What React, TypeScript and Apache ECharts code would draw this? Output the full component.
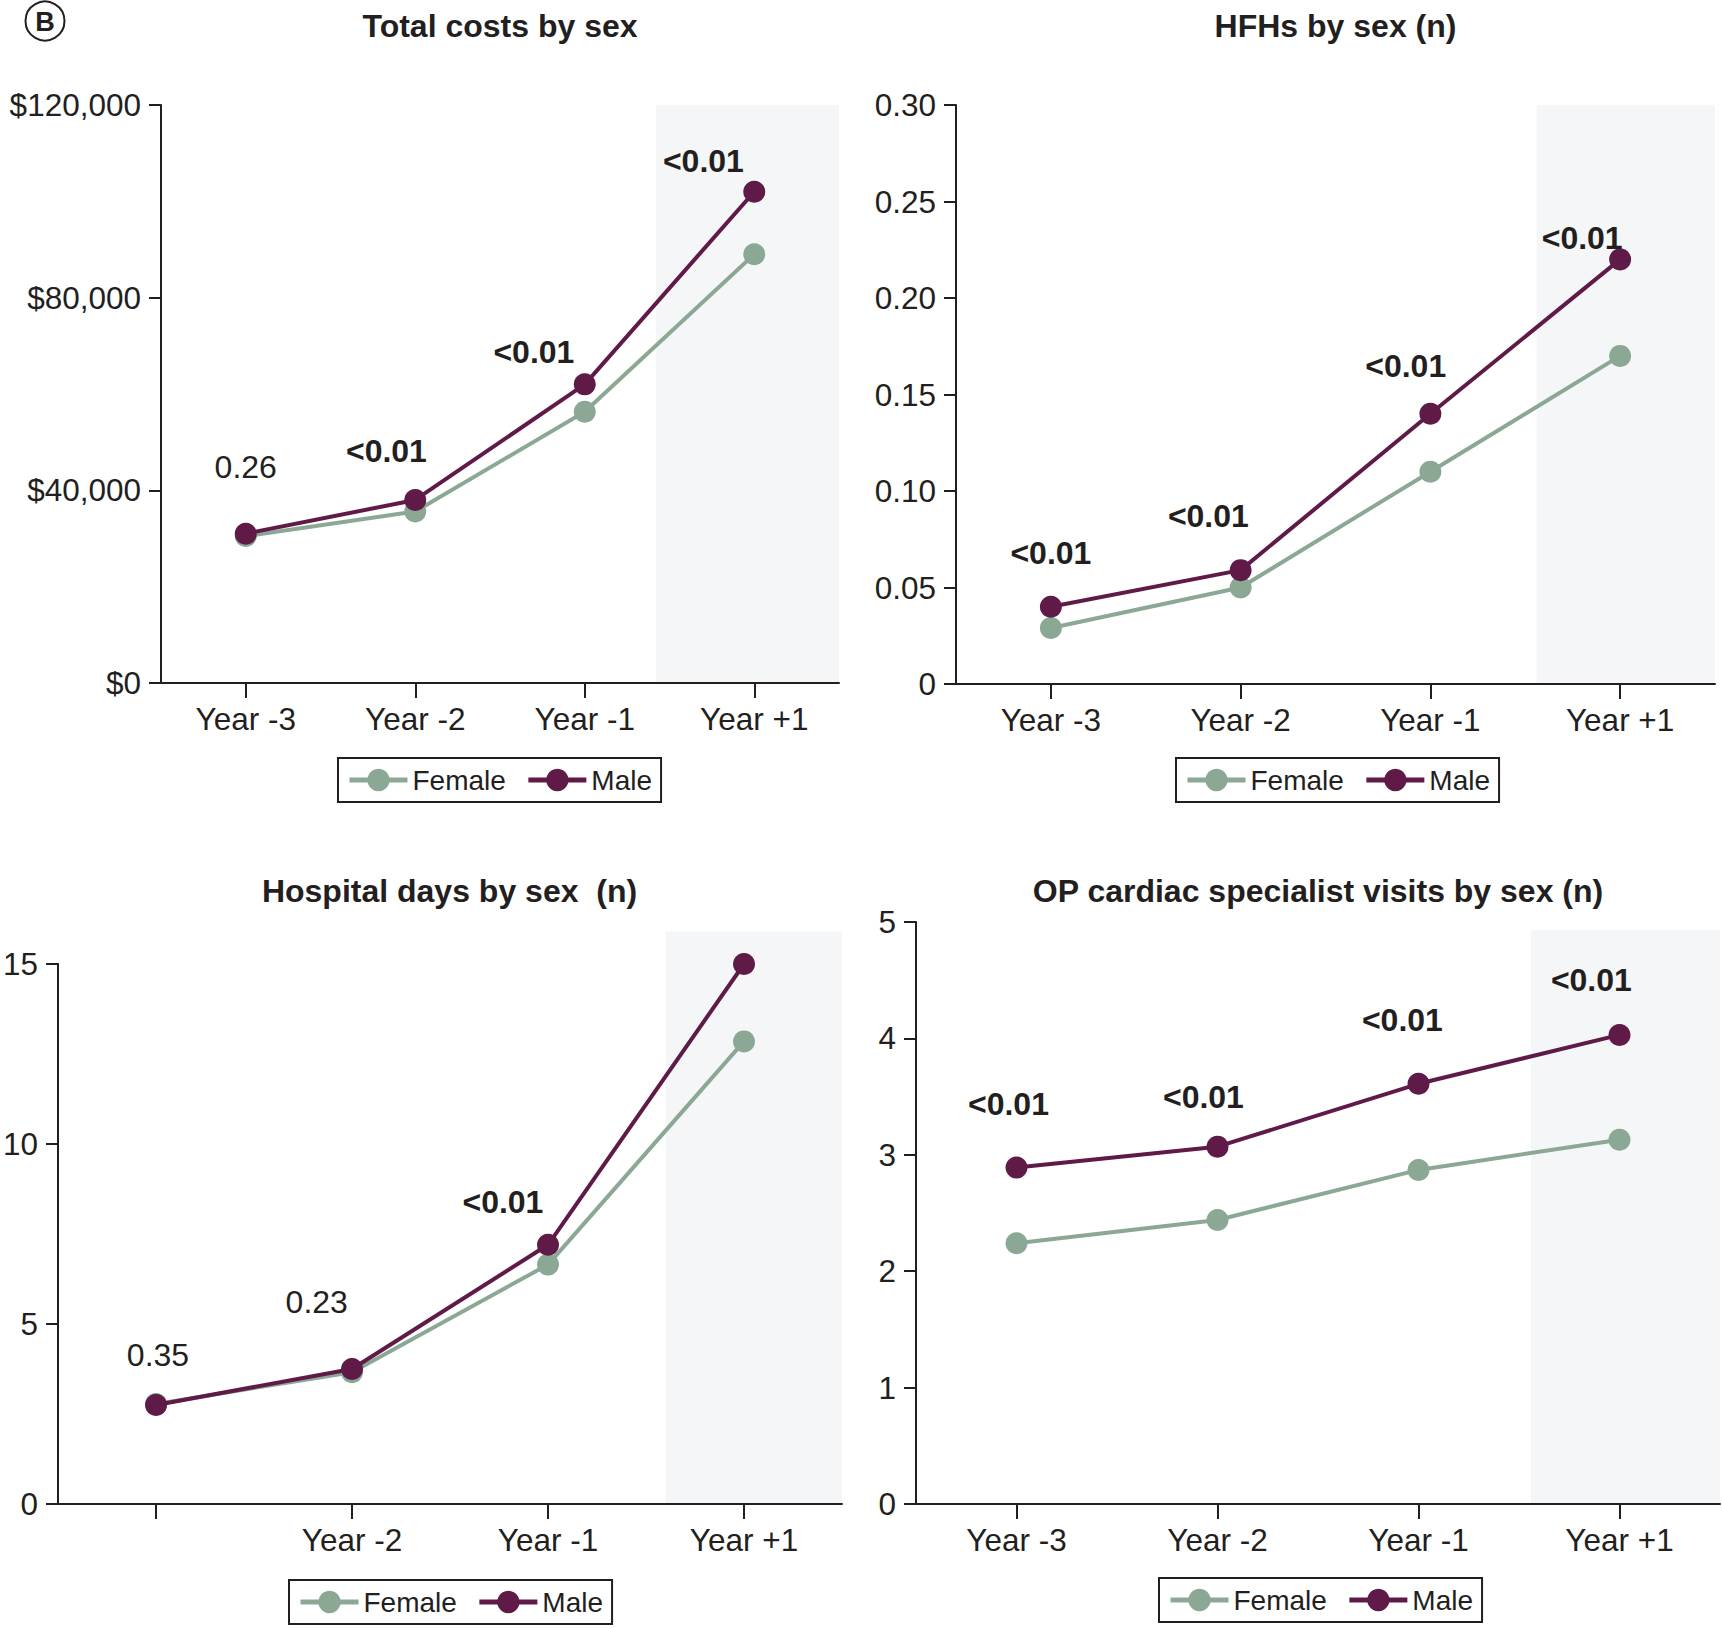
import React, { useEffect, useRef } from "react";
import * as echarts from "echarts";

const categories = ["Year -3", "Year -2", "Year -1", "Year +1"];
const seriesNames = ["Female", "Male"];

const costFemale = [30500, 35600, 56300, 89000];
const costMale = [31000, 38000, 62000, 102000];
const costP = ["0.26", "<0.01", "<0.01", "<0.01"];
const costPX = [0.5, 1.33, 2.2, 3.2];
const costPY = [44900, 48100, 68700, 108400];

const hfhFemale = [0.029, 0.05, 0.11, 0.17];
const hfhMale = [0.04, 0.059, 0.14, 0.22];
const hfhP = ["<0.01", "<0.01", "<0.01", "<0.01"];
const hfhPX = [0.5, 1.33, 2.37, 3.3];
const hfhPY = [0.0678, 0.0871, 0.1646, 0.2312];

const daysFemale = [2.78, 3.66, 6.65, 12.85];
const daysMale = [2.75, 3.75, 7.2, 15.0];
const daysP = ["0.35", "0.23", "<0.01", "<0.01"];
const daysPX = [0.51, 1.32, 2.27, 3.17];
const daysPY = [4.15, 5.61, 8.38, 15.3];

const opFemale = [2.24, 2.44, 2.87, 3.13];
const opMale = [2.89, 3.07, 3.61, 4.03];
const opP = ["<0.01", "<0.01", "<0.01", "<0.01"];
const opPX = [0.46, 1.43, 2.42, 3.36];
const opPY = [3.44, 3.5, 4.16, 4.5];

const FONT = "'Liberation Sans', Arial, Helvetica, sans-serif";
const TXT = "#231f20";
const FEMALE = "#8ba895";
const MALE = "#5f1a48";
const SHADE = "#f5f6f8";

const panels = [
  {
    title: "Total costs by sex",
    female: costFemale, male: costMale, p: costP, px: costPX, py: costPY,
    grid: { left: 161, top: 105, width: 678, height: 578 },
    titleY: 26,
    y: { min: 0, max: 120000, interval: 40000, fmt: (v: number) => "$" + v.toLocaleString("en-US") },
    shade: [2.92, 4, 120000],
    legend: { left: 338, top: 758 },
    hideFirst: false,
  },
  {
    title: "HFHs by sex (n)",
    female: hfhFemale, male: hfhMale, p: hfhP, px: hfhPX, py: hfhPY,
    grid: { left: 956, top: 105, width: 759, height: 579 },
    titleY: 26,
    y: { min: 0, max: 0.3, interval: 0.05, fmt: (v: number) => (v === 0 ? "0" : v.toFixed(2)) },
    shade: [3.06, 4, 0.3],
    legend: { left: 1176, top: 758 },
    hideFirst: false,
  },
  {
    title: "Hospital days by sex  (n)",
    female: daysFemale, male: daysMale, p: daysP, px: daysPX, py: daysPY,
    grid: { left: 57, top: 964, width: 785, height: 540 },
    titleY: 891,
    y: { min: 0, max: 15, interval: 5, fmt: (v: number) => String(v) },
    shade: [3.1, 4, 15.9],
    legend: { left: 289, top: 1580 },
    hideFirst: true,
  },
  {
    title: "OP cardiac specialist visits by sex (n)",
    female: opFemale, male: opMale, p: opP, px: opPX, py: opPY,
    grid: { left: 916, top: 922, width: 804, height: 582 },
    titleY: 891,
    y: { min: 0, max: 5, interval: 1, fmt: (v: number) => String(v) },
    shade: [3.06, 4, 4.93],
    legend: { left: 1159, top: 1578 },
    hideFirst: false,
  },
];

function buildOption() {
  const grid: any[] = [];
  const xAxis: any[] = [];
  const yAxis: any[] = [];
  const series: any[] = [];
  const legend: any[] = [];
  const graphic: any[] = [];

  panels.forEach((p, g) => {
    grid.push({ ...p.grid, containLabel: false });
    xAxis.push({
      type: "category",
      gridIndex: g,
      data: categories,
      boundaryGap: true,
      axisLine: { show: true, lineStyle: { color: TXT, width: 2 } },
      axisTick: { show: true, alignWithLabel: true, length: 15, lineStyle: { color: TXT, width: 2 } },
      axisLabel: {
        margin: 20,
        fontSize: 31.5,
        fontFamily: FONT,
        color: TXT,
        formatter: (v: string, i: number) => (p.hideFirst && i === 0 ? "" : v),
      },
      splitLine: { show: false },
      z: 5,
    });
    xAxis.push({ type: "value", gridIndex: g, min: 0, max: 4, show: false });
    yAxis.push({
      type: "value",
      gridIndex: g,
      min: p.y.min,
      max: p.y.max,
      interval: p.y.interval,
      axisLine: { show: true, lineStyle: { color: TXT, width: 2 } },
      axisTick: { show: true, length: 12, lineStyle: { color: TXT, width: 2 } },
      axisLabel: { margin: 20, fontSize: 31.5, fontFamily: FONT, color: TXT, formatter: p.y.fmt },
      splitLine: { show: false },
      z: 5,
    });
    const xc = g * 2;
    const xv = g * 2 + 1;
    series.push({
      type: "custom",
      xAxisIndex: xv,
      yAxisIndex: g,
      silent: true,
      z: 0,
      data: [p.shade],
      renderItem: (params: any, api: any) => {
        const a = api.coord([api.value(0), api.value(2)]);
        const b = api.coord([api.value(1), 0]);
        return {
          type: "rect",
          shape: { x: a[0], y: a[1], width: b[0] - a[0], height: b[1] - a[1] },
          style: { fill: SHADE },
        };
      },
    });
    series.push({
      name: seriesNames[0],
      type: "line",
      xAxisIndex: xc,
      yAxisIndex: g,
      data: p.female,
      symbol: "circle",
      symbolSize: 22,
      lineStyle: { color: FEMALE, width: 4 },
      itemStyle: { color: FEMALE },
      z: 3,
    });
    series.push({
      name: seriesNames[1],
      type: "line",
      xAxisIndex: xc,
      yAxisIndex: g,
      data: p.male,
      symbol: "circle",
      symbolSize: 22,
      lineStyle: { color: MALE, width: 4 },
      itemStyle: { color: MALE },
      z: 4,
    });
    series.push({
      type: "scatter",
      xAxisIndex: xv,
      yAxisIndex: g,
      silent: true,
      symbolSize: 0,
      itemStyle: { opacity: 1, color: TXT },
      z: 6,
      data: p.p.map((t, i) => ({
        value: [p.px[i], p.py[i]],
        label: {
          show: true,
          position: "inside",
          formatter: t,
          fontSize: 32,
          fontFamily: FONT,
          color: TXT,
          opacity: 1,
          textBorderWidth: 0,
          textBorderColor: "transparent",
          fontWeight: t.startsWith("<") ? "bold" : "normal",
        },
      })),
    });
    legend.push({
      data: seriesNames,
      left: p.legend.left,
      top: p.legend.top,
      orient: "horizontal",
      itemWidth: 58,
      itemHeight: 28,
      itemGap: 20,
      padding: [8, 9],
      borderColor: TXT,
      borderWidth: 2,
      selectedMode: false,
      lineStyle: { width: 5 },
      textStyle: { fontSize: 28, fontFamily: FONT, color: TXT },
    });
    graphic.push({
      type: "text",
      x: p.grid.left + p.grid.width / 2,
      y: p.titleY,
      style: {
        text: p.title,
        align: "center",
        verticalAlign: "middle",
        fontSize: 32,
        fontWeight: "bold",
        fontFamily: FONT,
        fill: TXT,
      },
    });
  });

  graphic.push({
    type: "circle",
    shape: { cx: 45, cy: 21, r: 19.5 },
    style: { fill: "none", stroke: TXT, lineWidth: 2 },
  });
  graphic.push({
    type: "text",
    x: 45,
    y: 22,
    style: {
      text: "B",
      align: "center",
      verticalAlign: "middle",
      fontSize: 27,
      fontWeight: "bold",
      fontFamily: FONT,
      fill: TXT,
    },
  });

  return {
    animation: false,
    backgroundColor: "#ffffff",
    grid,
    xAxis,
    yAxis,
    series,
    legend,
    graphic,
  };
}

export default function App() {
  const ref = useRef<HTMLDivElement>(null);
  useEffect(() => {
    document.body.style.margin = "0";
    const chart = echarts.init(ref.current!, null, { renderer: "svg" });
    chart.setOption(buildOption() as any);
    return () => chart.dispose();
  }, []);
  return <div ref={ref} style={{ width: 1722, height: 1628, position: "absolute", left: 0, top: 0 }} />;
}
